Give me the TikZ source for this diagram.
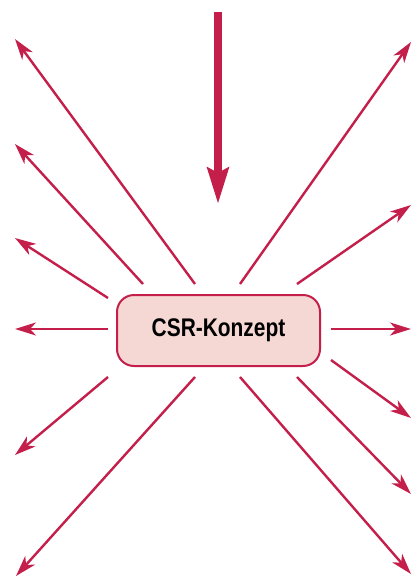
\documentclass[tikz,border=0pt]{standalone}
\usepackage{fontspec}
\setmainfont{Liberation Sans}
\usetikzlibrary{arrows.meta}
\definecolor{csrred}{HTML}{C41E4A}
\definecolor{csrfill}{HTML}{F5D8D4}
\tikzset{
  ray/.style={draw=csrred, line width=2.4pt, -{Stealth[length=21pt,width=13pt,inset=6pt]}},
  bigray/.style={draw=csrred, line width=8pt, -{Stealth[length=36pt,width=21pt,inset=5pt]}},
  concept/.style={draw=csrred, fill=csrfill, line width=2pt, rounded corners=17pt,
    minimum width=203pt, minimum height=71pt, inner sep=0pt}
}
\begin{document}
\begin{tikzpicture}[x=1pt,y=-1pt]
\useasboundingbox (0,0) rectangle (410,576);
\node[concept] (c) at (218.5,330.5) {\fontsize{25.5pt}{28pt}\selectfont\bfseries\scalebox{0.82}[1]{CSR-Konzept}};
% top input arrow
\coordinate (t0) at (218,12);
\coordinate (t1) at (218,204);
\draw[bigray] (t0) -- (t1);
% start points
\coordinate (s1) at (195,284);
\coordinate (s2) at (143,284);
\coordinate (s3) at (108,298);
\coordinate (s4) at (108,329);
\coordinate (s5) at (108,377);
\coordinate (s6) at (195,377);
\coordinate (s7) at (240,284);
\coordinate (s8) at (297,284);
\coordinate (s9) at (331,329);
\coordinate (s10) at (331,360);
\coordinate (s11) at (297,377);
\coordinate (s12) at (240,377);
% end points
\coordinate (e1) at (15,39);
\coordinate (e2) at (15,144);
\coordinate (e3) at (15,238);
\coordinate (e4) at (15,329);
\coordinate (e5) at (15,455);
\coordinate (e6) at (16,576);
\coordinate (e7) at (411,42);
\coordinate (e8) at (411,205);
\coordinate (e9) at (411,329);
\coordinate (e10) at (411,418);
\coordinate (e11) at (411,494);
\coordinate (e12) at (411,574);
\foreach \i in {1,...,12} {\draw[ray] (s\i) -- (e\i);}
\end{tikzpicture}
\end{document}
